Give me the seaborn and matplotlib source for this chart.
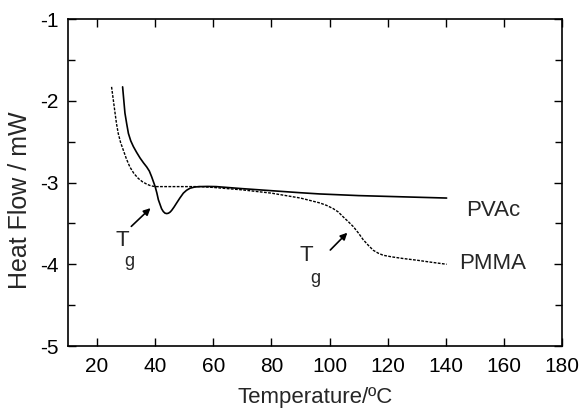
import matplotlib
matplotlib.use("Agg")
import matplotlib.pyplot as plt
import numpy as np
import pandas as pd
import seaborn as sns
from matplotlib.ticker import MultipleLocator

# DSC curves (temperature in C, heat flow in mW)
pvac_temp = [28.8, 29.2, 29.6, 30.2, 30.8, 31.6, 32.5, 33.6, 34.8, 36.0, 37.1,
             38.0, 38.8, 39.4, 40.0, 40.6, 41.1, 41.7, 42.2, 42.8, 43.4, 44.0,
             44.6, 45.2, 45.7, 46.5, 47.4, 48.5, 49.7, 50.8, 52.0, 53.6, 55.4,
             58.0, 61.0, 70.0, 80.0, 90.0, 96.7, 110.0, 125.0, 140.3]
pvac_flow = [-1.83, -1.99, -2.15, -2.28, -2.40, -2.49, -2.56, -2.63, -2.70, -2.76,
             -2.81, -2.86, -2.93, -2.99, -3.05, -3.13, -3.21, -3.27, -3.32, -3.355,
             -3.375, -3.38, -3.375, -3.36, -3.34, -3.30, -3.25, -3.19, -3.13, -3.095,
             -3.07, -3.055, -3.05, -3.048, -3.05, -3.075, -3.10, -3.125, -3.14,
             -3.16, -3.175, -3.19]

pmma_temp = [25.0, 25.6, 26.2, 26.7, 27.3, 28.1, 29.0, 30.1, 31.3, 32.7, 34.2,
             35.6, 37.1, 38.5, 40.0, 45.0, 50.0, 55.4, 60.0, 70.0, 80.0, 90.0,
             96.7, 99.0, 101.3, 103.0, 104.7, 106.5, 108.2, 110.0, 111.6, 113.4,
             115.1, 116.8, 118.5, 121.5, 125.4, 130.0, 135.0, 140.3]
pmma_flow = [-1.83, -1.99, -2.15, -2.28, -2.40, -2.51, -2.60, -2.71, -2.81, -2.89,
             -2.95, -2.99, -3.02, -3.04, -3.05, -3.05, -3.05, -3.05, -3.06, -3.09,
             -3.13, -3.19, -3.25, -3.28, -3.32, -3.36, -3.42, -3.48, -3.54, -3.62,
             -3.70, -3.77, -3.83, -3.865, -3.89, -3.91, -3.93, -3.95, -3.975, -4.0]

curve_labels = ["PVAc", "PMMA"]

df = pd.concat([
    pd.DataFrame({"temp": pvac_temp, "flow": pvac_flow, "sample": "PVAc"}),
    pd.DataFrame({"temp": pmma_temp, "flow": pmma_flow, "sample": "PMMA"}),
])

sns.set_style("ticks")
plt.rcParams["font.family"] = ["Liberation Sans", "DejaVu Sans"]

fig = plt.figure(figsize=(5.82, 4.09), dpi=100)
ax = fig.add_axes([0.1168, 0.154, 0.8488, 0.7995])

sns.lineplot(data=df[df["sample"] == "PVAc"], x="temp", y="flow", color="black",
             lw=1.2, sort=False, ax=ax)
sns.lineplot(data=df[df["sample"] == "PMMA"], x="temp", y="flow", color="black",
             lw=1.0, linestyle=(0, (2, 1)), sort=False, ax=ax)

ax.set_xlim(10, 180)
ax.set_ylim(-5, -1)
ax.xaxis.set_major_locator(MultipleLocator(20))
ax.yaxis.set_major_locator(MultipleLocator(1))
ax.yaxis.set_minor_locator(MultipleLocator(0.5))
ax.tick_params(which="both", direction="in", top=True, right=True, labelsize=15,
               colors="black", width=1)
ax.tick_params(which="major", length=6)
ax.tick_params(which="minor", length=5)
ax.tick_params(axis="x", pad=8)
ax.tick_params(axis="y", pad=7)
ax.set_xticks([20, 40, 60, 80, 100, 120, 140, 160, 180])
ax.set_yticks([-5, -4, -3, -2, -1])
ax.set_yticklabels(["-5", "-4", "-3", "-2", "-1"])
for s in ax.spines.values():
    s.set_linewidth(1.2)
    s.set_color("black")

ax.set_xlabel("Temperature/ºC", fontsize=16, labelpad=8)
ax.set_ylabel("Heat Flow / mW", fontsize=18)
# label sits a bit below the axes centre in the original
ax.yaxis.set_label_coords(-0.073, 0.446)

ax.text(156.4, -3.34, curve_labels[0], fontsize=16, ha="center", va="center")
ax.text(156.0, -3.99, curve_labels[1], fontsize=16, ha="center", va="center")

# Tg markers
arrow = dict(arrowstyle="-|>", color="black", lw=1.2, mutation_scale=10)
ax.annotate("", xy=(39.1, -3.29), xytext=(31.1, -3.56), arrowprops=arrow)
ax.text(28.6, -3.71, "T", fontsize=16, ha="center", va="center")
ax.text(31.2, -3.97, "g", fontsize=13, ha="center", va="center")
ax.annotate("", xy=(106.8, -3.59), xytext=(99.6, -3.85), arrowprops=arrow)
ax.text(92.1, -3.89, "T", fontsize=16, ha="center", va="center")
ax.text(95.1, -4.17, "g", fontsize=13, ha="center", va="center")

fig.savefig("out.png", dpi=100)
